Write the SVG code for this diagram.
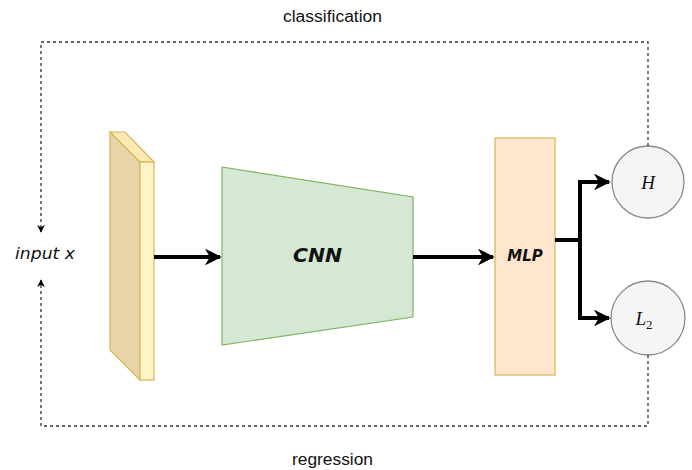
<svg xmlns="http://www.w3.org/2000/svg" width="692" height="470" viewBox="0 0 692 470">
  <defs>
    <marker id="thick-head" viewBox="0 0 10 10" refX="9" refY="5" markerWidth="4.2" markerHeight="4.2" orient="auto" markerUnits="strokeWidth">
      <path d="M0,0 L10,5 L0,10 L3,5 Z" fill="#000"/>
    </marker>
    <marker id="dash-head" viewBox="0 0 10 10" refX="9" refY="5" markerWidth="8" markerHeight="8" orient="auto" markerUnits="userSpaceOnUse">
      <path d="M0,0 L10,5 L0,10 L3,5 Z" fill="#000"/>
    </marker>
    <style>
      .label { font-family: "Liberation Sans", Arial, sans-serif; font-size: 16px; fill: #111; }
      .hand { font-family: "DejaVu Sans", "Liberation Sans", sans-serif; font-style: italic; fill: #111; }
      .math { font-family: "Liberation Serif", "Times New Roman", serif; font-style: italic; font-size: 19px; fill: #111; }
      .flow { fill: none; stroke: #000; stroke-width: 4; }
      .loop { fill: none; stroke: #333; stroke-width: 1.3; stroke-dasharray: 3 3; }
      .circle { fill: #f5f5f5; stroke: #8a8a8a; stroke-width: 1.3; }
    </style>
  </defs>

  <!-- loop labels -->
  <text class="label" x="283" y="22" textLength="99" lengthAdjust="spacingAndGlyphs">classification</text>
  <text class="label" x="292" y="465" textLength="81" lengthAdjust="spacingAndGlyphs">regression</text>

  <!-- input slab -->
  <g id="input-slab">
    <polygon points="110,132 140,162 140,380 110,350" fill="#e8d4a8" stroke="#d6b656" stroke-width="1.2"/>
    <polygon points="110,132 125,132 154,162 140,162" fill="#fbe9b4" stroke="#d6b656" stroke-width="1.2"/>
    <rect x="140" y="162" width="14" height="218" fill="#fff4c8" stroke="#d6b656" stroke-width="1.2"/>
  </g>

  <g id="input-label">
    <text class="hand" x="15" y="259" font-size="15" textLength="60" lengthAdjust="spacingAndGlyphs">input x</text>
  </g>

  <!-- CNN encoder -->
  <g id="cnn">
    <polygon points="222,167 413,197 413,317 222,345" fill="#d5e8d4" stroke="#82b366" stroke-width="1.2"/>
    <text class="hand" x="293" y="262" font-size="20" font-weight="bold" textLength="49" lengthAdjust="spacingAndGlyphs">CNN</text>
  </g>

  <!-- MLP head -->
  <g id="mlp">
    <rect x="495" y="138" width="60" height="237" fill="#ffe6cc" stroke="#d6b656" stroke-width="1.2"/>
    <text class="hand" x="525" y="261" font-size="15" font-weight="bold" text-anchor="middle">MLP</text>
  </g>

  <!-- loss nodes -->
  <g id="loss-h">
    <circle class="circle" cx="648" cy="182" r="36"/>
    <text class="math" x="648" y="189" text-anchor="middle">H</text>
  </g>
  <g id="loss-l2">
    <circle class="circle" cx="648" cy="318" r="37"/>
    <text class="math" x="644" y="325" text-anchor="middle">L<tspan font-size="13" font-style="normal" dy="4">2</tspan></text>
  </g>

  <!-- connectors -->
  <g id="connectors">
    <line class="flow" x1="154" y1="257" x2="220" y2="257" marker-end="url(#thick-head)"/>
    <line class="flow" x1="413" y1="257" x2="493" y2="257" marker-end="url(#thick-head)"/>
    <polyline class="flow" points="555,240 580,240 580,182 609,182" marker-end="url(#thick-head)"/>
    <polyline class="flow" points="580,240 580,318 609,318" marker-end="url(#thick-head)"/>
    <polyline class="loop" points="648,146 648,42 41,42 41,232" marker-end="url(#dash-head)"/>
    <polyline class="loop" points="648,355 648,426 41,426 41,280" marker-end="url(#dash-head)"/>
  </g>
</svg>
